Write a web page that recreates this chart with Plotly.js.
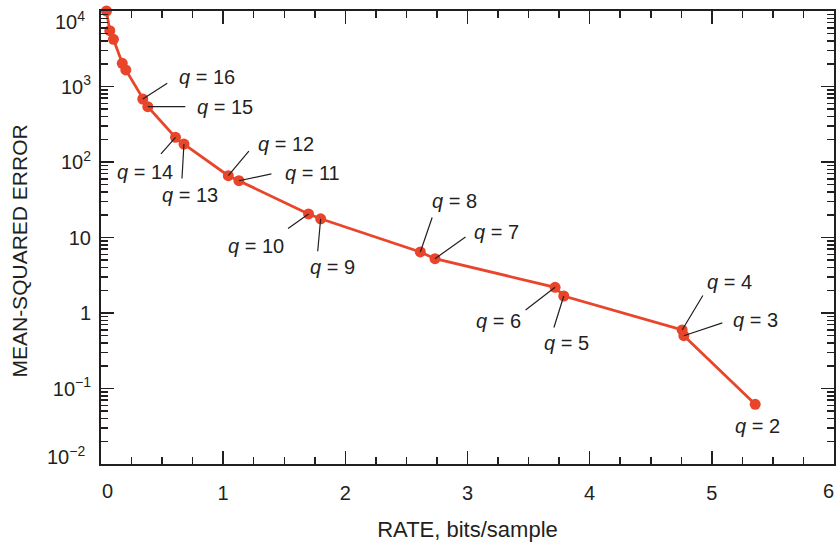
<!DOCTYPE html>
<html>
<head>
<meta charset="utf-8">
<script src="https://cdn.plot.ly/plotly-3.0.1.min.js"></script>
<style>html,body{margin:0;padding:0;background:#fff;}#chart{width:836px;height:542px;}</style>
</head>
<body>
<div id="chart"></div>
<script>
// ---- data ----
const rate = [0.045, 0.072, 0.102, 0.174, 0.203, 0.342, 0.383, 0.610, 0.679, 1.042, 1.129, 1.699, 1.798, 2.614, 2.734, 3.717, 3.788, 4.757, 4.771, 5.355];
const mse  = [10000, 5480, 4220, 2030, 1660, 683, 541, 212, 173, 65.9, 56.5, 20.5, 17.7, 6.43, 5.24, 2.19, 1.68, 0.596, 0.50, 0.0618];
// q labels for points (null = unlabeled)
const qLabel = [null, null, null, null, null, 16, 15, 14, 13, 12, 11, 10, 9, 8, 7, 6, 5, 4, 3, 2];
// inner tick labels drawn by the axes; the end labels are set inside the frame as in the reference
const yTickVals = [0.1, 1, 10, 100, 1000];
const yTickText = ['10<sup>\u22121</sup>', '1', '10', '10<sup>2</sup>', '10<sup>3</sup>'];
const yEndVals = [0.01, 10000];
const yEndText = ['10<sup>\u22122</sup>', '10<sup>4</sup>'];
const xTickVals = [1, 2, 3, 4, 5];
const xEndVals = [0, 6];
const xEndText = ['0', '6'];
const xTitle = 'RATE, bits/sample';
const yTitle = 'MEAN-SQUARED ERROR';

// ---- label placement (pixel offsets from the point: leader end, text centre; +y = down) ----
const leaderOff = {16:[25,-16],15:[38,0],14:[-15,17],13:[-2,35],12:[21,-25],11:[33,-7],10:[-21,15],9:[-3,33],8:[12,-35],7:[31,-22],6:[-30,23],5:[-10,32],4:[21,-35],3:[39,-13],2:null};
const textOff   = {16:[64,-22],15:[77,0],14:[-31,35],13:[6,51],12:[58,-32],11:[74,-8],10:[-53,32],9:[12,48],8:[34,-51],7:[61,-27],6:[-57,34],5:[3,47],4:[47,-48],3:[72,-16],2:[2,22]};

const ink = '#231f20';
const red = '#e8452b';
const FONT = 'Liberation Sans, Arial, Helvetica, sans-serif';
const tickFont = {family: FONT, size: 20, color: ink};

const annotations = [];
rate.forEach((r, i) => {
  const q = qLabel[i];
  if (q === null) return;
  const ly = Math.log10(mse[i]);
  const lo = leaderOff[q];
  if (lo) {
    annotations.push({x: r, y: ly, xref: 'x', yref: 'y', text: '', showarrow: true,
      arrowhead: 0, arrowwidth: 1.2, arrowcolor: ink, ax: lo[0], ay: lo[1], standoff: 0, borderpad: 0});
  }
  const to = textOff[q];
  annotations.push({x: r, y: ly, xref: 'x', yref: 'y', text: '<i>q</i> = ' + q, showarrow: false,
    xshift: to[0], yshift: -to[1], xanchor: 'center', yanchor: 'middle',
    font: {family: FONT, size: 20, color: ink}});
});
// end tick labels of the axes, pulled inside the frame
annotations.push({x: xEndVals[0], y: 0, xref: 'x', yref: 'paper', text: xEndText[0], showarrow: false,
  xanchor: 'left', yanchor: 'middle', xshift: -1, yshift: -27, font: tickFont});
annotations.push({x: xEndVals[1], y: 0, xref: 'x', yref: 'paper', text: xEndText[1], showarrow: false,
  xanchor: 'right', yanchor: 'middle', xshift: 2, yshift: -27, font: tickFont});
annotations.push({x: 0, y: Math.log10(yEndVals[0]), xref: 'paper', yref: 'y', text: yEndText[0], showarrow: false,
  xanchor: 'right', yanchor: 'middle', xshift: -14, yshift: 9, font: tickFont});
annotations.push({x: 0, y: Math.log10(yEndVals[1]), xref: 'paper', yref: 'y', text: yEndText[1], showarrow: false,
  xanchor: 'right', yanchor: 'middle', xshift: -14, yshift: -9, font: tickFont});
// y-axis title
annotations.push({x: 0, y: 0.469, xref: 'paper', yref: 'paper', text: yTitle, showarrow: false,
  textangle: -90, xanchor: 'center', yanchor: 'middle', xshift: -81,
  font: {family: FONT, size: 21, color: ink}});

const trace = {
  x: rate, y: mse, type: 'scatter', mode: 'lines+markers',
  line: {color: red, width: 2.8},
  marker: {color: red, size: 11},
  cliponaxis: false, hoverinfo: 'skip'
};

const layout = {
  width: 836, height: 542,
  margin: {l: 101, r: 2, t: 11, b: 78},
  paper_bgcolor: '#fff', plot_bgcolor: '#fff',
  showlegend: false,
  font: {family: FONT, size: 18, color: ink},
  xaxis: {
    range: [0, 6], tickmode: 'array', tickvals: xTickVals,
    ticks: 'inside', ticklen: 13, tickwidth: 1.5, tickcolor: ink,
    showline: true, linecolor: ink, linewidth: 2, mirror: 'allticks',
    showgrid: false, zeroline: false, ticklabelstandoff: 10,
    minor: {ticks: 'inside', ticklen: 7, tickwidth: 1.5, tickcolor: ink, dtick: 0.25, showgrid: false},
    tickfont: tickFont,
    title: {text: xTitle, font: {family: FONT, size: 22, color: ink}, standoff: 19},
    automargin: false
  },
  yaxis: {
    type: 'log', range: [-2, 4], tickmode: 'array', tickvals: yTickVals, ticktext: yTickText,
    ticks: 'inside', ticklen: 13, tickwidth: 1.5, tickcolor: ink,
    showline: true, linecolor: ink, linewidth: 2, mirror: 'allticks',
    showgrid: false, zeroline: false, ticklabelstandoff: 4,
    minor: {ticks: 'inside', ticklen: 7, tickwidth: 1.5, tickcolor: ink, dtick: 'D1', showgrid: false},
    tickfont: tickFont,
    automargin: false
  },
  annotations: annotations
};

Plotly.newPlot('chart', [trace], layout, {displayModeBar: false, staticPlot: true});
</script>
</body>
</html>
